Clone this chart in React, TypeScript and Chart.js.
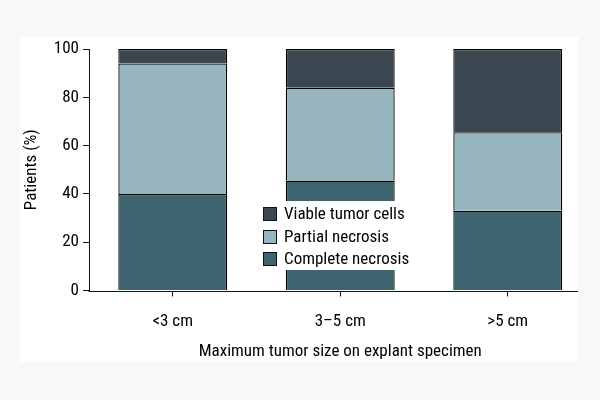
import React, { useEffect, useRef } from "react";
import { Chart, registerables } from "chart.js";
Chart.register(...registerables);

const categories = ["<3 cm", "3–5 cm", ">5 cm"];
const completeNecrosis = [40, 45.5, 33];
const partialNecrosis = [54, 38.5, 32.5];
const viableTumorCells = [6, 16, 34.5];
const yTickValues = [0, 20, 40, 60, 80, 100];
const seriesLabels = ["Complete necrosis", "Partial necrosis", "Viable tumor cells"];
const seriesColors = ["#3e6470", "#97b5bf", "#3a4750"];
const xTitle = "Maximum tumor size on explant specimen";
const yTitle = "Patients (%)";

const FONT = "'Roboto Condensed', 'DejaVu Sans Condensed', sans-serif";
const TEXT = "#000000";
const FS = 17;

const backgroundPlugin = {
  id: "bgFrame",
  beforeDraw(chart: any) {
    const ctx = chart.ctx;
    ctx.save();
    ctx.fillStyle = "#f8f8f8";
    ctx.fillRect(0, 0, chart.width, chart.height);
    ctx.fillStyle = "#ffffff";
    ctx.fillRect(20, 37, 558, 325);
    ctx.restore();
  },
};

const xAxisLinePlugin = {
  id: "xAxisLine",
  afterDraw(chart: any) {
    const ctx = chart.ctx;
    const { left, bottom } = chart.chartArea;
    ctx.save();
    ctx.strokeStyle = "#111";
    ctx.lineWidth = 1;
    ctx.beginPath();
    const y = Math.round(bottom) + 0.5;
    ctx.moveTo(left - 0.5, y);
    ctx.lineTo(chart.width - 22, y);
    ctx.stroke();
    ctx.restore();
  },
};

const insideLegendPlugin = {
  id: "insideLegend",
  afterDatasetsDraw(chart: any) {
    const ctx = chart.ctx;
    const ds = [...chart.data.datasets].reverse();
    ctx.save();
    ctx.fillStyle = "#ffffff";
    ctx.fillRect(258, 201, 154, 69);
    ctx.font = `${FS}px ${FONT}`;
    ctx.textBaseline = "middle";
    ctx.textAlign = "left";
    ds.forEach((d: any, i: number) => {
      const cy = 214 + i * 22.5;
      const top = Math.round(cy - 7);
      ctx.fillStyle = d.backgroundColor;
      ctx.fillRect(263, top, 14, 14);
      ctx.strokeStyle = "#111";
      ctx.lineWidth = 1;
      ctx.strokeRect(263.5, top + 0.5, 13, 13);
      ctx.fillStyle = TEXT;
      ctx.fillText(d.label, 284, cy + 1);
    });
    ctx.restore();
  },
};

export default function App() {
  const ref = useRef<HTMLCanvasElement | null>(null);
  useEffect(() => {
    if (!ref.current) return;
    Chart.defaults.font.family = FONT;
    Chart.defaults.color = TEXT;
    const values = [completeNecrosis, partialNecrosis, viableTumorCells];
    const chart = new Chart(ref.current, {
      type: "bar",
      data: {
        labels: categories,
        datasets: values.map((v, i) => ({
          label: seriesLabels[i],
          data: v,
          backgroundColor: seriesColors[i],
          borderColor: "#000",
          borderWidth: 1.3,
          borderSkipped: "start",
          categoryPercentage: 1,
          barPercentage: 0.65,
        })),
      },
      options: {
        animation: false,
        responsive: false,
        maintainAspectRatio: false,
        layout: { padding: { left: 0, top: 49, right: 8.5, bottom: 0 } },
        plugins: { legend: { display: false }, tooltip: { enabled: false } },
        scales: {
          x: {
            stacked: true,
            offset: true,
            grid: { display: true, offset: false, drawOnChartArea: false, drawTicks: true, tickLength: 6, tickColor: "#111", lineWidth: 1 },
            border: { display: false },
            ticks: { font: { size: FS }, color: TEXT, padding: 15, maxRotation: 0 },
            title: { display: true, text: xTitle, font: { size: FS, lineHeight: 1.2 }, color: TEXT, padding: { top: 0, bottom: 38 } },
            afterFit: (s: any) => { s.height = 109.5; },
          },
          y: {
            stacked: true,
            min: 0,
            max: 100,
            grid: { display: true, drawOnChartArea: false, drawTicks: true, tickLength: 6, tickColor: "#111", lineWidth: 1 },
            border: { display: true, color: "#111", width: 1 },
            ticks: { font: { size: FS }, color: TEXT, padding: 4 },
            afterBuildTicks: (s: any) => { s.ticks = yTickValues.map((v) => ({ value: v })); },
            title: { display: true, text: yTitle, font: { size: FS, lineHeight: 1.2 }, color: TEXT, padding: { top: 21.8, bottom: 0 } },
            afterFit: (s: any) => { s.width = 89; },
          },
        },
      },
      plugins: [backgroundPlugin, xAxisLinePlugin, insideLegendPlugin],
    });
    return () => chart.destroy();
  }, []);
  return (
    <div style={{ position: "fixed", left: 0, top: 0, width: 600, height: 400 }}>
      <canvas ref={ref} width={600} height={400} style={{ width: 600, height: 400, display: "block" }} />
    </div>
  );
}
